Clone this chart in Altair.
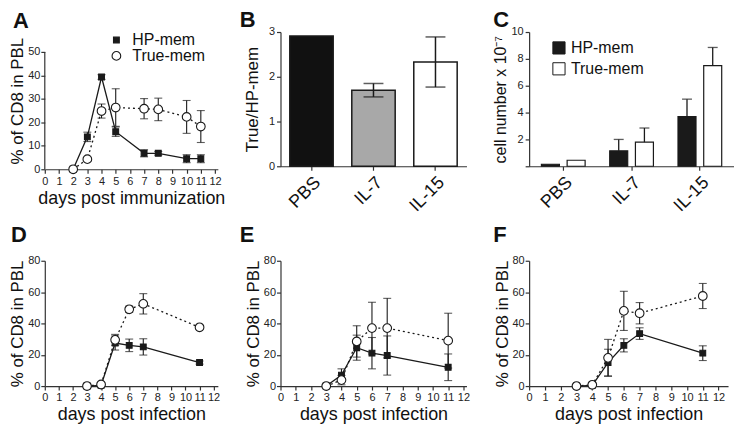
import altair as alt
import pandas as pd

FONT = "Liberation Sans"
INK = "#1a1a1a"
AXC = "#333333"
SERIES = ["HP-mem", "True-mem"]

# ---- Panel A (days post immunization) ----
a_days = [2, 3, 4, 5, 7, 8, 10, 11]
a_hp = [0, 13.8, 39.3, 16.0, 6.8, 6.8, 4.5, 4.5]
a_hp_err = [0, 2.0, 1.0, 2.0, 1.5, 0.8, 1.7, 1.7]
a_true = [0, 4.3, 24.8, 26.3, 25.8, 25.5, 22.3, 18.2]
a_true_err = [0, 0, 3.0, 8.0, 4.3, 4.8, 7.0, 6.8]

# ---- Panels D-F (days post infection) ----
inf_days = [3, 4, 5, 6, 7, 11]
d_hp = [0, 0.5, 27.5, 26.0, 25.0, 15.0]
d_hp_err = [0, 0.5, 4.5, 4.0, 5.2, 1.0]
d_true = [0, 1.0, 29.5, 49.0, 52.5, 37.5]
d_true_err = [0, 0.5, 3.5, 2.0, 6.5, 1.0]

e_hp = [0, 7.0, 24.5, 21.0, 19.5, 12.0]
e_hp_err = [0, 4.0, 8.0, 10.0, 12.5, 8.5]
e_true = [0, 3.8, 28.5, 37.0, 37.0, 29.0]
e_true_err = [0, 3.0, 10.0, 16.5, 19.0, 17.5]

f_hp = [0, 0.5, 15.0, 26.0, 33.5, 21.0]
f_hp_err = [0, 0.5, 8.5, 4.2, 3.7, 4.7]
f_true = [0, 0.8, 18.0, 48.0, 46.5, 57.5]
f_true_err = [0, 0.5, 11.8, 12.5, 6.8, 8.0]

# ---- Panel B ----
b_cond = ["PBS", "IL-7", "IL-15"]
b_ratio = [2.91, 1.70, 2.33]
b_err = [0, 0.15, 0.56]
b_fill = ["#111111", "#a8a8a8", "#ffffff"]

# ---- Panel C ----
c_hp = [0.15, 1.15, 3.7]
c_hp_err = [0, 0.85, 1.3]
c_true = [0.45, 1.8, 7.5]
c_true_err = [0, 1.05, 1.35]


def series_frame(days, hp, hp_err, tr, tr_err):
    rows = []
    for name, vals, errs in ((SERIES[0], hp, hp_err), (SERIES[1], tr, tr_err)):
        for d, v, e in zip(days, vals, errs):
            rows.append({"day": d, "value": v, "lo": v - e, "hi": v + e,
                         "err": e, "series": name})
    return pd.DataFrame(rows)


def letter(text, dx, dy):
    return alt.TitleParams(text=text, anchor="start", frame="group", dx=dx, dy=dy,
                           fontSize=22, fontWeight="bold", font=FONT, color="#111111", offset=4)


def line_panel(df, text, xtitle, xmax, ymax_axis, ymax_dom, yticks, width, height,
               legend, tdx, tdy):
    xs = alt.Scale(domain=[0, xmax], nice=False, zero=False)
    xa = alt.Axis(values=list(range(13)), title=xtitle, format="d", titlePadding=3,
                  labelOverlap=False, labelFlush=False)
    ys = alt.Scale(domain=[0, ymax_dom], nice=False)
    ya = alt.Axis(values=yticks, title="% of CD8 in PBL", domain=(ymax_dom == ymax_axis),
                  titlePadding=1, labelPadding=1)
    X = lambda: alt.X("day:Q", scale=xs, axis=xa)
    base = alt.Chart(df)
    err = base.transform_filter("datum.err > 0")
    rules = err.mark_rule(color=INK, strokeWidth=1.1).encode(
        x=X(), y=alt.Y("lo:Q", scale=ys, axis=ya), y2="hi:Q")
    cap_lo = err.mark_tick(orient="horizontal", size=8, thickness=1.1, color=INK).encode(
        x=X(), y=alt.Y("lo:Q", scale=ys, axis=ya))
    cap_hi = err.mark_tick(orient="horizontal", size=8, thickness=1.1, color=INK).encode(
        x=X(), y=alt.Y("hi:Q", scale=ys, axis=ya))
    hp_line = base.transform_filter(alt.datum.series == SERIES[0]).mark_line(
        color=INK, strokeWidth=1.3).encode(x=X(), y=alt.Y("value:Q", scale=ys, axis=ya))
    tr_line = base.transform_filter(alt.datum.series == SERIES[1]).mark_line(
        color=INK, strokeWidth=1.3, strokeDash=[2, 3]).encode(
        x=X(), y=alt.Y("value:Q", scale=ys, axis=ya))
    if legend:
        lg = alt.Legend(orient="none", legendX=64, legendY=0, title=None, labelFontSize=16,
                        labelFont=FONT, labelColor="#111111", symbolStrokeColor=INK,
                        symbolStrokeWidth=1.1, rowPadding=0, labelOffset=8)
    else:
        lg = None
    pts = base.mark_point(filled=True, opacity=1, strokeWidth=1.1).encode(
        x=X(), y=alt.Y("value:Q", scale=ys, axis=ya),
        shape=alt.Shape("series:N", scale=alt.Scale(domain=SERIES, range=["square", "circle"]), legend=lg),
        fill=alt.Fill("series:N", scale=alt.Scale(domain=SERIES, range=[INK, "#ffffff"]), legend=lg),
        stroke=alt.Stroke("series:N", scale=alt.Scale(domain=SERIES, range=[INK, INK]), legend=lg),
        size=alt.Size("series:N", scale=alt.Scale(domain=SERIES, range=[34, 76]), legend=lg))
    layers = [rules, cap_lo, cap_hi, hp_line, tr_line, pts]
    if ymax_dom != ymax_axis:
        ax_line = alt.Chart(pd.DataFrame({"y0": [0], "y1": [ymax_axis]})).mark_rule(
            color=AXC, strokeWidth=1.2).encode(
            x=alt.datum(0, scale=xs, axis=xa), y=alt.Y("y0:Q", scale=ys, axis=ya), y2="y1:Q")
        layers.append(ax_line)
    return alt.layer(*layers).properties(width=width, height=height,
                                         title=letter(text, tdx, tdy))


# Panel A
dfA = series_frame(a_days, a_hp, a_hp_err, a_true, a_true_err)
chartA = line_panel(dfA, "A", "days post immunization", 12.2, 50, 50 * 138 / 118,
                    [0, 10, 20, 30, 40, 50], 174, 138, True, -32, 5)

# Panel B
dfB = pd.DataFrame({"cond": b_cond, "ratio": b_ratio, "err": b_err})
dfB["lo"] = dfB["ratio"] - dfB["err"]
dfB["hi"] = dfB["ratio"] + dfB["err"]
xB = alt.X("cond:N", sort=b_cond, scale=alt.Scale(paddingInner=0.3, paddingOuter=0.15),
           axis=alt.Axis(title=None, labelAngle=-45, labelFontSize=18, labelColor="#111111",
                         labelPadding=3))
ysB = alt.Scale(domain=[0, 3], nice=False)
yaB = alt.Axis(values=[0, 1, 2, 3], title="True/HP-mem", titlePadding=7)
barsB = alt.Chart(dfB).mark_bar(stroke=INK, strokeWidth=1.5).encode(
    x=xB, y=alt.Y("ratio:Q", scale=ysB, axis=yaB),
    fill=alt.Fill("cond:N", scale=alt.Scale(domain=b_cond, range=b_fill), legend=None))
errB = alt.Chart(dfB).transform_filter("datum.err > 0")
ruleB = errB.mark_rule(color=INK, strokeWidth=1.5).encode(
    x=xB, y=alt.Y("lo:Q", scale=ysB, axis=yaB), y2="hi:Q")
capB1 = errB.mark_tick(orient="horizontal", size=20, thickness=1.5, color=INK).encode(
    x=xB, y=alt.Y("lo:Q", scale=ysB, axis=yaB))
capB2 = errB.mark_tick(orient="horizontal", size=20, thickness=1.5, color=INK).encode(
    x=xB, y=alt.Y("hi:Q", scale=ysB, axis=yaB))
chartB = alt.layer(barsB, ruleB, capB1, capB2).properties(
    width=187, height=135, title=letter("B", -41, 10))

# Panel C
rowsC = []
for name, vals, errs in ((SERIES[0], c_hp, c_hp_err), (SERIES[1], c_true, c_true_err)):
    for cnd, v, e in zip(b_cond, vals, errs):
        rowsC.append({"cond": cnd, "series": name, "value": v, "err": e, "hi": v + e})
dfC = pd.DataFrame(rowsC)
xC = alt.X("cond:N", sort=b_cond, scale=alt.Scale(paddingInner=0.36, paddingOuter=0.18),
           axis=alt.Axis(title=None, labelAngle=-45, labelFontSize=18, labelColor="#111111",
                         labelPadding=3))
xoC = alt.XOffset("series:N", sort=SERIES, scale=alt.Scale(paddingInner=0.3, paddingOuter=0))
ysC = alt.Scale(domain=[0, 10], nice=False)
yaC = alt.Axis(values=[0, 2, 4, 6, 8, 10], labelExpr="datum.value == 0 ? '' : datum.label",
               title="cell number x 10\u207b\u2077", titleFontSize=16, titlePadding=3)
barsC = alt.Chart(dfC).mark_bar(stroke=INK, strokeWidth=1.2).encode(
    x=xC, xOffset=xoC, y=alt.Y("value:Q", scale=ysC, axis=yaC),
    fill=alt.Fill("series:N", scale=alt.Scale(domain=SERIES, range=[INK, "#ffffff"]),
                  legend=alt.Legend(orient="none", legendX=22, legendY=8, title=None,
                                    symbolType="square", symbolSize=150,
                                    symbolStrokeColor=INK, symbolStrokeWidth=1,
                                    labelFontSize=16, labelFont=FONT, labelColor="#111111",
                                    rowPadding=3, labelOffset=4)))
errC = alt.Chart(dfC).transform_filter("datum.err > 0")
ruleC = errC.mark_rule(color=INK, strokeWidth=1.3).encode(
    x=xC, xOffset=xoC, y=alt.Y("value:Q", scale=ysC, axis=yaC), y2="hi:Q")
capC = errC.mark_tick(orient="horizontal", size=10, thickness=1.3, color=INK).encode(
    x=xC, xOffset=xoC, y=alt.Y("hi:Q", scale=ysC, axis=yaC))
chartC = alt.layer(barsC, ruleC, capC).properties(
    width=206, height=135, title=letter("C", -36, 10))

# Panels D, E, F
yt = [0, 20, 40, 60, 80]
chartD = line_panel(series_frame(inf_days, d_hp, d_hp_err, d_true, d_true_err), "D",
                    "days post infection", 12.3, 80, 80, yt, 174, 126, False, -34, -4)
chartE = line_panel(series_frame(inf_days, e_hp, e_hp_err, e_true, e_true_err), "E",
                    "days post infection", 12.2, 80, 80, yt, 187, 126, False, -41, -4)
chartF = line_panel(series_frame(inf_days, f_hp, f_hp_err, f_true, f_true_err), "F",
                    "days post infection", 12.6, 80, 80, yt, 200, 126, False, -36, -4)

chart = alt.concat(chartA, chartB, chartC, chartD, chartE, chartF, columns=3,
                   spacing={"row": 92, "column": 63}, bounds="flush", align="each"
                   ).resolve_scale(fill="independent", shape="independent", size="independent",
                                   stroke="independent"
                   ).resolve_legend(fill="independent", shape="independent", size="independent",
                                    stroke="independent"
                   ).properties(padding=0).configure_view(stroke=None).configure_axis(
    grid=False, domainColor=AXC, domainWidth=1.2, tickColor=AXC, tickWidth=1.2, tickSize=4,
    labelColor="#222222", labelFont=FONT, labelFontSize=11, titleFont=FONT,
    titleFontSize=17, titleFontWeight="normal", titleColor="#111111", labelPadding=2
).configure_axisX(titleFontSize=18).configure_legend(labelFont=FONT)

chart.save("out.html", embed_options={"renderer": "svg", "actions": False})
